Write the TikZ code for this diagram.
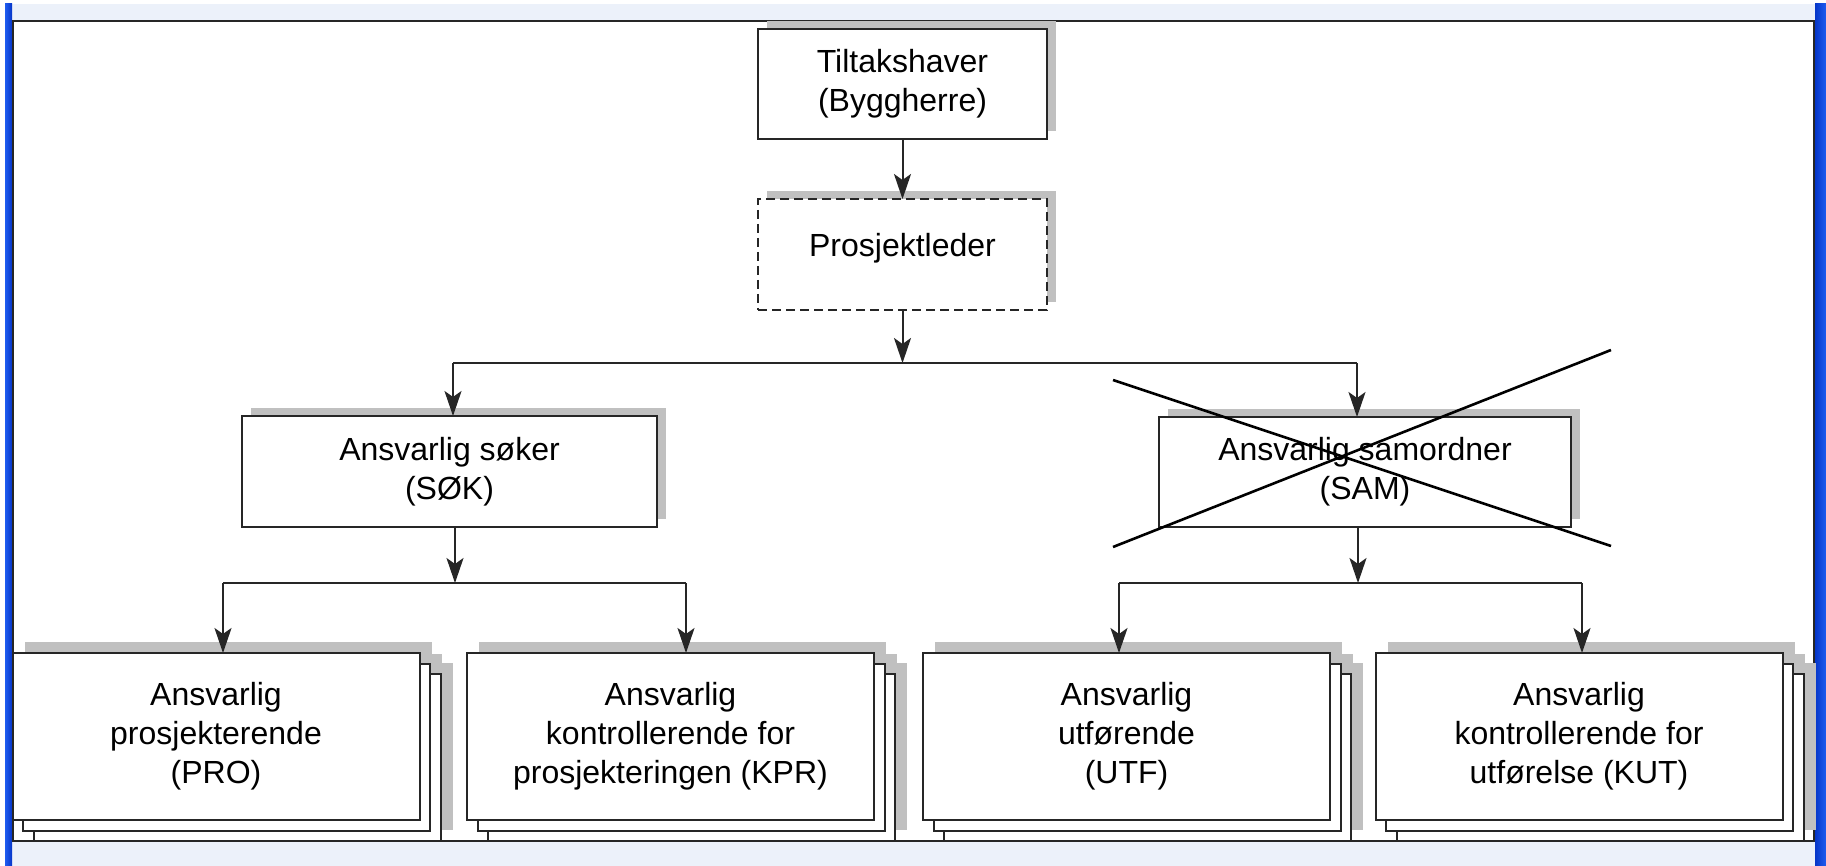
\documentclass[tikz,border=0pt]{standalone}
\usepackage{fontspec}
\setmainfont{Liberation Sans}
\usetikzlibrary{arrows.meta,calc}

\definecolor{panelbg}{HTML}{ECF1FA}
\definecolor{barblue}{HTML}{0636C8}
\definecolor{barlight}{HTML}{1F5CF0}
\definecolor{ink}{HTML}{262626}
\definecolor{shade}{HTML}{C0C0C0}

\tikzset{
  box/.style={draw=ink, line width=1pt, fill=white, inner sep=0pt, outer sep=0pt,
    align=center, text=black, font=\fontsize{16}{19.5}\selectfont},
  shadowed/.style={preaction={fill=shade, draw=none, transform canvas={xshift=4.5pt, yshift=4pt}}},
  % three stacked sheets, each with its own drop shadow
  stacked/.style={
    preaction={fill=shade, draw=none, transform canvas={xshift=16.5pt, yshift=-5pt}},
    preaction={fill=shade, draw=none, transform canvas={xshift=11.25pt, yshift=-0.25pt}},
    preaction={fill=shade, draw=none, transform canvas={xshift=6pt, yshift=5.5pt}},
    preaction={fill=white, draw=ink, line width=1pt, transform canvas={xshift=10.5pt, yshift=-10.5pt}},
    preaction={fill=white, draw=ink, line width=1pt, transform canvas={xshift=5.25pt, yshift=-5.25pt}},
    minimum width=203.5pt, minimum height=83.5pt},
  wire/.style={draw=ink, line width=1pt},
  arr/.style={wire, -{Stealth[length=12.5pt, width=8.5pt, inset=3pt]}},
  strike/.style={draw=black, line width=1.3pt}
}

\begin{document}
\begin{tikzpicture}[x=0.5pt, y=-0.5pt]
\useasboundingbox (0,0) rectangle (1826,866);

% window background and side bars
\fill[white] (0,0) rectangle (1826,866);
\fill[panelbg] (5,4) rectangle (1826,866);
\shade[left color=barlight, right color=barblue] (5,4) rectangle (12,866);
\shade[left color=barblue, right color=barlight] (1815,4) rectangle (1826,866);
\filldraw[fill=white, draw=ink, line width=0.8pt] (13,21) rectangle (1814,841);

% top of the hierarchy
\node[box, shadowed, minimum width=144.5pt, minimum height=55pt] (T) at (902.5,84)
  {Tiltakshaver\\(Byggherre)};
\node[box, shadowed, dash pattern=on 4.5pt off 2.5pt, minimum width=144.5pt,
  minimum height=55.5pt, text depth=9.2pt] (P) at (902.5,254.5) {Prosjektleder};

% second level
\node[box, shadowed, minimum width=207.5pt, minimum height=55.5pt] (SOK) at (449.5,471.5)
  {Ansvarlig søker\\(SØK)};
\node[box, shadowed, minimum width=206pt, minimum height=55pt] (SAM) at (1365,472)
  {Ansvarlig samordner\\(SAM)};

% third level: stacked sheets
\node[box, stacked] (PRO) at (216,736.5) {Ansvarlig\\prosjekterende\\(PRO)};
\node[box, stacked] (KPR) at (670.5,736.5) {Ansvarlig\\kontrollerende for\\prosjekteringen (KPR)};
\node[box, stacked] (UTF) at (1126.5,736.5) {Ansvarlig\\utførende\\(UTF)};
\node[box, stacked] (KUT) at (1579,736.5) {Ansvarlig\\kontrollerende for\\utførelse (KUT)};

% junction points of the branching connectors
\coordinate (hubA) at (902.5,363);
\coordinate (hubAL) at (453,363);
\coordinate (hubAR) at (1357,363);
\coordinate (hubB) at (455,583);
\coordinate (hubBL) at (223,583);
\coordinate (hubBR) at (686,583);
\coordinate (hubC) at (1358,583);
\coordinate (hubCL) at (1119,583);
\coordinate (hubCR) at (1582,583);

\draw[arr] (T) -- (P);
\draw[arr] (P) -- (hubA);
\draw[wire] (hubAL) -- (hubAR);
\draw[arr] (hubAL) -- (hubAL |- SOK.north);
\draw[arr] (hubAR) -- (hubAR |- SAM.north);

\draw[arr] (hubB |- SOK.south) -- (hubB);
\draw[wire] (hubBL) -- (hubBR);
\draw[arr] (hubBL) -- (hubBL |- PRO.north);
\draw[arr] (hubBR) -- (hubBR |- KPR.north);

\draw[arr] (hubC |- SAM.south) -- (hubC);
\draw[wire] (hubCL) -- (hubCR);
\draw[arr] (hubCL) -- (hubCL |- UTF.north);
\draw[arr] (hubCR) -- (hubCR |- KUT.north);

% the coordinator role is crossed out
\coordinate (xa) at (1113,380);
\coordinate (xb) at (1611,546);
\coordinate (xc) at (1113,547);
\coordinate (xd) at (1611,350);
\draw[strike] (xa) -- (xb);
\draw[strike] (xc) -- (xd);
\end{tikzpicture}
\end{document}
